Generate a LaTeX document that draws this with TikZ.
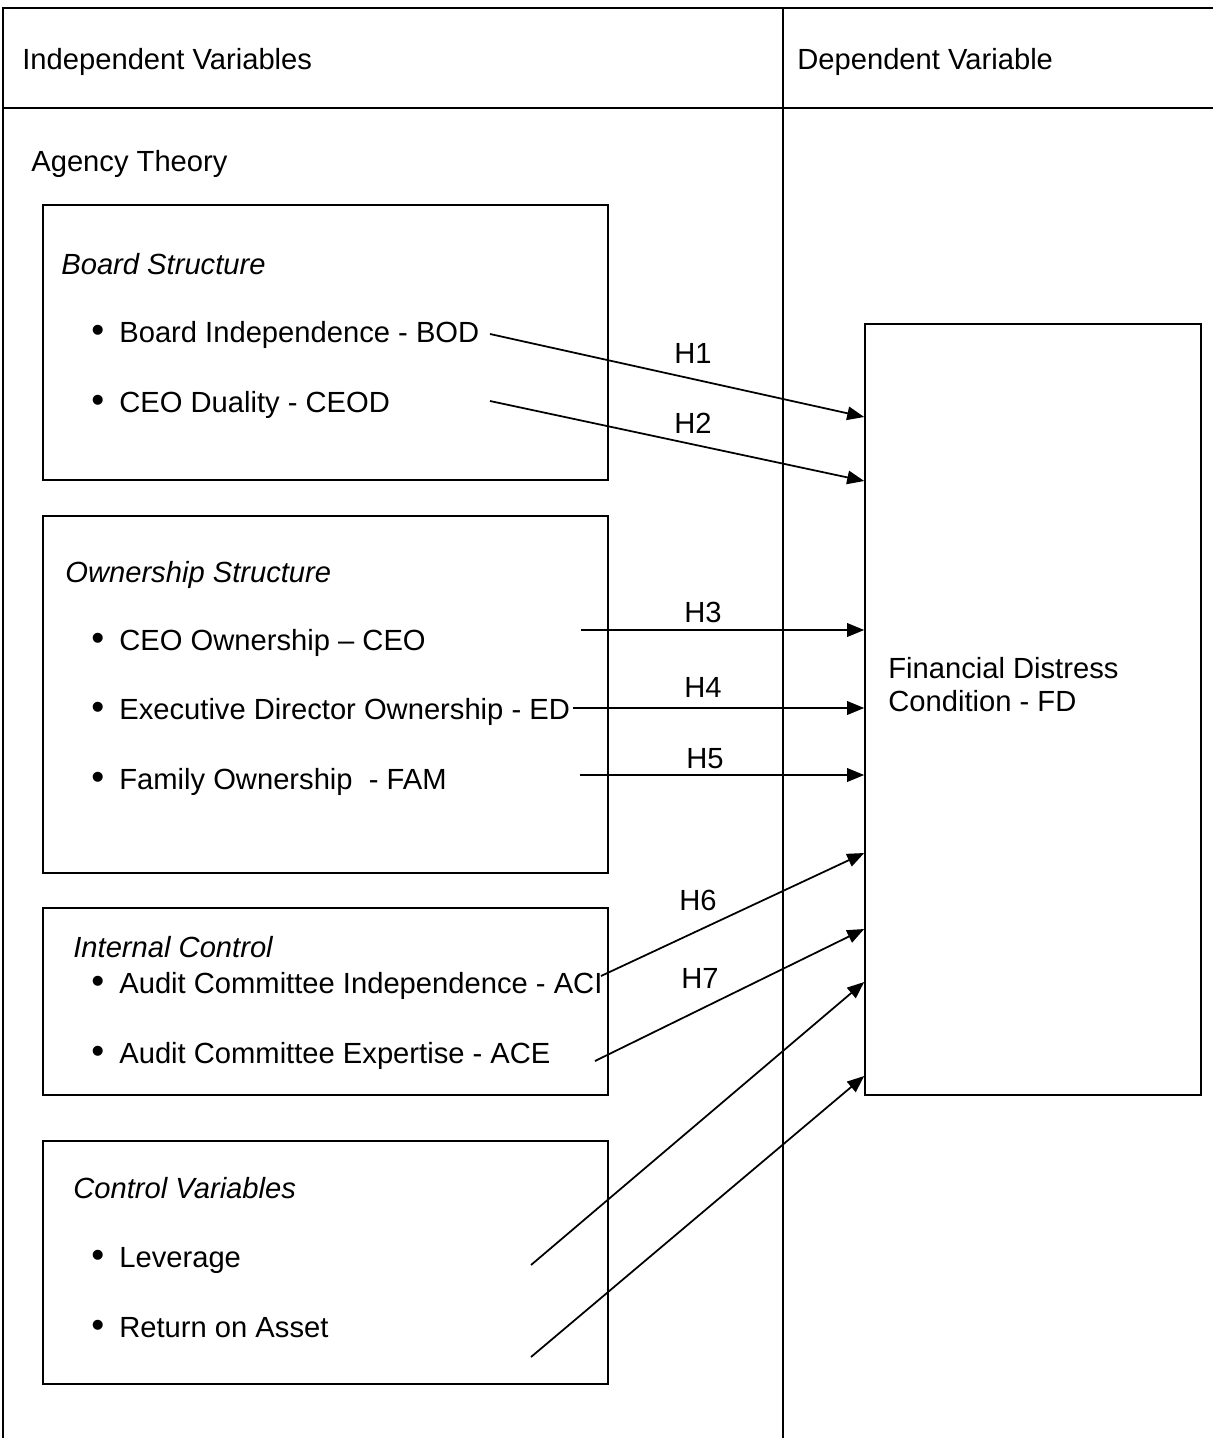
\documentclass[tikz,border=0pt]{standalone}
\usepackage{fontspec}
\setmainfont{Liberation Sans}
\usetikzlibrary{arrows.meta,fit}
\newcommand{\itembul}{\llap{{\fontsize{21}{20}\selectfont\textbullet}\hspace{0.3cm}}}

\begin{document}
\begin{tikzpicture}[x=0.02cm,y=-0.02cm,
    txt/.style={anchor=base west,inner sep=0pt,font=\fontsize{16.6}{20}\selectfont},
    head/.style={txt,font=\fontsize{16.6}{20}\selectfont\itshape},
    hlab/.style={anchor=base,inner sep=0pt,font=\fontsize{16.6}{20}\selectfont},
    box/.style={draw,line width=0.9pt,inner sep=0pt},
    arr/.style={-{Triangle[length=0.34cm,width=0.27cm]},line width=1pt}]

  \useasboundingbox (0,0) rectangle (1213,1438);

  % table frame
  \draw[line width=1.1pt] (3,1438) -- (3,8) -- (1213,8);
  \draw[line width=1.1pt] (3,108) -- (1213,108);
  \draw[line width=1.1pt] (783,8) -- (783,1438);

  \node[txt] (indep) at (22,69) {Independent Variables};
  \node[txt] (dep) at (797,69) {Dependent Variable};
  \node[txt] (agency) at (31,171) {Agency Theory};

  % groups
  \node[box,fit={(43,205) (608,480)}] (board) {};
  \node[box,fit={(43,516) (608,873)}] (owner) {};
  \node[box,fit={(43,908) (608,1095)}] (intctl) {};
  \node[box,fit={(43,1141) (608,1384)}] (ctlvar) {};
  \node[box,fit={(865,324) (1201,1095)}] (fd) {};

  \node[head] (boardhd) at (61,274) {Board Structure};
  \node[txt] (bod) at (119,342) {\itembul Board Independence - BOD};
  \node[txt] (ceod) at (119,412) {\itembul CEO Duality - CEOD};

  \node[head] (ownerhd) at (65,582) {Ownership Structure};
  \node[txt] (ceo) at (119,650) {\itembul CEO Ownership -- CEO};
  \node[txt] (ed) at (119,719) {\itembul Executive Director Ownership - ED};
  \node[txt] (fam) at (119,789) {\itembul Family Ownership\ \ - FAM};

  \node[head] (intctlhd) at (73,957) {Internal Control};
  \node[txt] (aci) at (119,993) {\itembul Audit Committee Independence - ACI};
  \node[txt] (ace) at (119,1063) {\itembul Audit Committee Expertise - ACE};

  \node[head] (ctlvarhd) at (73,1198) {Control Variables};
  \node[txt] (lev) at (119,1267) {\itembul Leverage};
  \node[txt] (roa) at (119,1337) {\itembul Return on Asset};

  \node[txt] (fdone) at (888,678) {Financial Distress};
  \node[txt] (fdtwo) at (888,711) {Condition - FD};

  % hypotheses
  \foreach \n/\sx/\sy/\ey in {bod/490/334/417, ceod/490/401/481, ceo/581/630/630,
      ed/573/708/708, fam/580/775/775, aci/601/976/853, ace/595/1061/929,
      lev/531/1265/982, roa/531/1357/1076}
  {
    \coordinate (\n s) at (\sx,\sy);
    \coordinate (\n e) at (fd.west |- 0,\ey);
    \draw[arr] (\n s) -- (\n e);
  }

  \foreach \i/\x/\y in {1/693/363, 2/693/433, 3/703/622, 4/703/697,
      5/705/768, 6/698/910, 7/700/988}
    \node[hlab] (h\i) at (\x,\y) {H\i};
\end{tikzpicture}
\end{document}
